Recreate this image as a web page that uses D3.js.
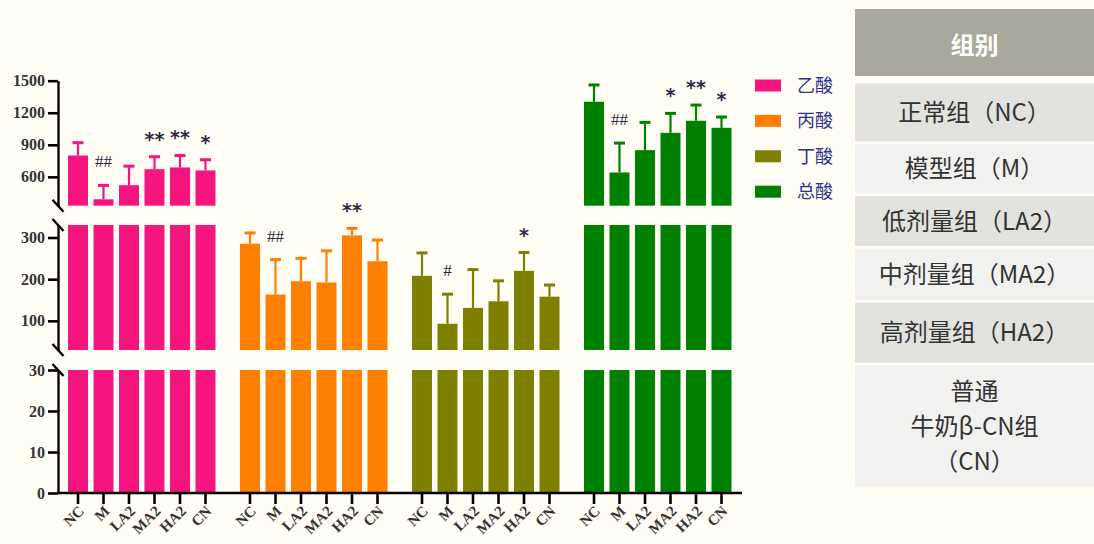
<!DOCTYPE html>
<html><head><meta charset="utf-8">
<script src="https://cdn.jsdelivr.net/npm/d3@7"></script>
<style>
html,body{margin:0;padding:0;background:#FFFDF4;}
svg{display:block;}
</style></head><body>
<svg id="chart" width="1094" height="544"></svg>
<script>
// ---------- data ----------
const groups = ["NC","M","LA2","MA2","HA2","CN"];
const seriesNames = ["乙酸","丙酸","丁酸","总酸"];
const acetic = [800, 390, 522, 672, 688, 660];
const aceticErr = [120, 130, 178, 116, 112, 100];
const propionic = [285, 163, 195, 192, 305, 243];
const propionicErr = [26, 84, 55, 76, 17, 51];
const butyric = [208, 93, 131, 147, 220, 158];
const butyricErr = [55, 71, 92, 49, 44, 28];
const total = [1303, 641, 850, 1012, 1125, 1059];
const totalErr = [157, 275, 260, 182, 147, 101];
const aceticSig = ["","##","","**","**","*"];
const propionicSig = ["","##","","","**",""];
const butyricSig = ["","#","","","*",""];
const totalSig = ["","##","","*","**","*"];
const colors = ["#F6157F","#FF8000","#808000","#008000"];
const lowTicks = [0,10,20,30];
const midTicks = [100,200,300];
const upTicks = [600,900,1200,1500];
const tableHeader = "组别";
const tableRows = [["正常组（NC）"],["模型组（M）"],["低剂量组（LA2）"],["中剂量组（MA2）"],["高剂量组（HA2）"],["普通","牛奶β-CN组","（CN）"]];

const seriesVals = [acetic, propionic, butyric, total];
const seriesErrs = [aceticErr, propionicErr, butyricErr, totalErr];
const seriesSig = [aceticSig, propionicSig, butyricSig, totalSig];

// ---------- scales ----------
const svg = d3.select("#chart");
const axisX = 58, baseY = 493;
const yLow = d3.scaleLinear().domain([0,30]).range([493,370]);
const yMid = d3.scaleLinear().domain([30,330]).range([350,225]);
const yUp  = d3.scaleLinear().domain([330,1500]).range([205.7,80.7]);
const segs = [yLow, yMid, yUp];
const segFor = v => v > 330 ? yUp : (v > 30 ? yMid : yLow);

const xGroup = d3.scaleBand().domain(d3.range(4)).range([65.25,734.25]).paddingInner(0.1105).paddingOuter(0);
const xInner = d3.scaleBand().domain(groups).range([0, xGroup.bandwidth()]).paddingInner(0.2157).paddingOuter(0.1078);

const serif = "'Liberation Serif','Times New Roman',serif";
const cjk = "'Noto Sans CJK SC','Noto Sans',sans-serif";

// ---------- bars ----------
const plot = svg.append("g");
seriesVals.forEach((vals, s) => {
  const g = plot.append("g").attr("transform", `translate(${xGroup(s)},0)`);
  vals.forEach((v, i) => {
    const x = xInner(groups[i]);
    segs.forEach(sc => {
      const [d0, d1] = sc.domain();
      if (v > d0) {
        const top = Math.min(v, d1);
        g.append("rect").attr("x", x).attr("width", xInner.bandwidth())
          .attr("y", sc(top)).attr("height", sc(d0) - sc(top)).attr("fill", colors[s]);
      }
    });
    const sc = segFor(v);
    const cx = x + xInner.bandwidth()/2;
    const capY = sc(v + seriesErrs[s][i]);
    g.append("line").attr("x1", cx).attr("x2", cx).attr("y1", sc(v)).attr("y2", capY)
      .attr("stroke", colors[s]).attr("stroke-width", 2.2);
    g.append("line").attr("x1", cx-5.5).attr("x2", cx+5.5).attr("y1", capY).attr("y2", capY)
      .attr("stroke", colors[s]).attr("stroke-width", 3);
    const sig = seriesSig[s][i];
    if (sig) {
      const isHash = sig.includes("#");
      g.append("text").attr("x", cx).attr("y", isHash ? capY - 18 : capY - 11)
        .attr("text-anchor", "middle")
        .attr("font-family", isHash ? serif : "'DejaVu Sans',sans-serif")
        .attr("font-weight", isHash ? "normal" : "bold")
        .attr("font-size", isHash ? 17 : 19)
        .attr("fill", "#2a2a44").text(sig);
    }
  });
});

// ---------- y axes ----------
[[yLow, lowTicks],[yMid, midTicks],[yUp, upTicks]].forEach(([sc, tv]) => {
  const ax = svg.append("g").attr("transform", `translate(${axisX},0)`)
    .call(d3.axisLeft(sc).tickValues(tv).tickFormat(d3.format("d")).tickSize(10).tickSizeOuter(0).tickPadding(3));
  ax.select(".domain").attr("stroke", "#000").attr("stroke-width", 2.4);
  ax.selectAll(".tick line").attr("stroke", "#000").attr("stroke-width", 2.6);
  ax.selectAll(".tick text").attr("font-family", serif).attr("font-weight", "bold")
    .attr("font-size", 16).attr("fill", "#333");
});
// break marks
[yUp.range()[0], yMid.range()[1], yMid.range()[0], yLow.range()[1]].forEach(y => {
  svg.append("line").attr("x1", axisX-5.5).attr("y1", y-6).attr("x2", axisX+5.5).attr("y2", y+6)
    .attr("stroke", "#000").attr("stroke-width", 2.4);
});

// ---------- x axis ----------
svg.append("line").attr("x1", axisX-1).attr("x2", 742).attr("y1", baseY).attr("y2", baseY)
  .attr("stroke", "#000").attr("stroke-width", 2.6);
d3.range(4).forEach(s => {
  const ax = svg.append("g").attr("transform", `translate(${xGroup(s)},${baseY})`)
    .call(d3.axisBottom(xInner).tickSize(11).tickSizeOuter(0).tickFormat(""));
  ax.select(".domain").remove();
  ax.selectAll(".tick line").attr("stroke", "#000").attr("stroke-width", 2.6);
});
// rotated category labels, each in its own rotated group
const labelLayer = svg.append("g").attr("class", "xlabels");
d3.range(4).forEach(s => {
  groups.forEach(gname => {
    const cx = xGroup(s) + xInner(gname) + xInner.bandwidth()/2;
    labelLayer.append("g").attr("transform", `translate(${cx + 7},${baseY + 19})`)
      .append("g").attr("transform", "rotate(-45)")
      .append("text").attr("text-anchor", "end")
      .attr("font-family", serif).attr("font-weight", "bold").attr("font-size", 15).attr("fill", "#333")
      .text(gname);
  });
});

// ---------- legend ----------
const lg = svg.append("g");
seriesNames.forEach((n, i) => {
  const y = 85.5 + i*35.4;
  lg.append("rect").attr("x", 755).attr("y", y-6).attr("width", 26).attr("height", 12).attr("fill", colors[i]);
  lg.append("text").attr("x", 797).attr("y", y).attr("dy", "0.36em")
    .attr("font-family", cjk).attr("font-size", 18).attr("fill", "#2E3192").text(n);
});

// ---------- table ----------
const tb = svg.append("g");
const tx0 = 855, tx1 = 1094, tcx = (tx0+tx1)/2;
tb.append("rect").attr("x", tx0).attr("y", 9).attr("width", tx1-tx0).attr("height", 67).attr("fill", "#A9A99B");
tb.append("text").attr("x", tcx).attr("y", 45).attr("dy", "0.36em").attr("text-anchor", "middle")
  .attr("font-family", cjk).attr("font-weight", "bold").attr("font-size", 24).attr("fill", "#fff").text(tableHeader);
const rowBounds = [[83.3,141.3],[144,192.7],[196,246],[248.7,300],[302.7,362.7],[365.3,487.3]];
tableRows.forEach((lines, i) => {
  const [a, b] = rowBounds[i];
  tb.append("rect").attr("x", tx0).attr("y", a).attr("width", tx1-tx0).attr("height", b-a)
    .attr("fill", i % 2 === 0 ? "#E2E2DE" : "#F1F1EF");
  const mid = (a+b)/2, lh = 35;
  lines.forEach((t, k) => {
    tb.append("text").attr("x", tcx).attr("y", mid + (k - (lines.length-1)/2)*lh).attr("dy", "0.36em")
      .attr("text-anchor", "middle").attr("font-family", cjk).attr("font-size", 24).attr("fill", "#333").text(t);
  });
});
</script>
</body></html>
